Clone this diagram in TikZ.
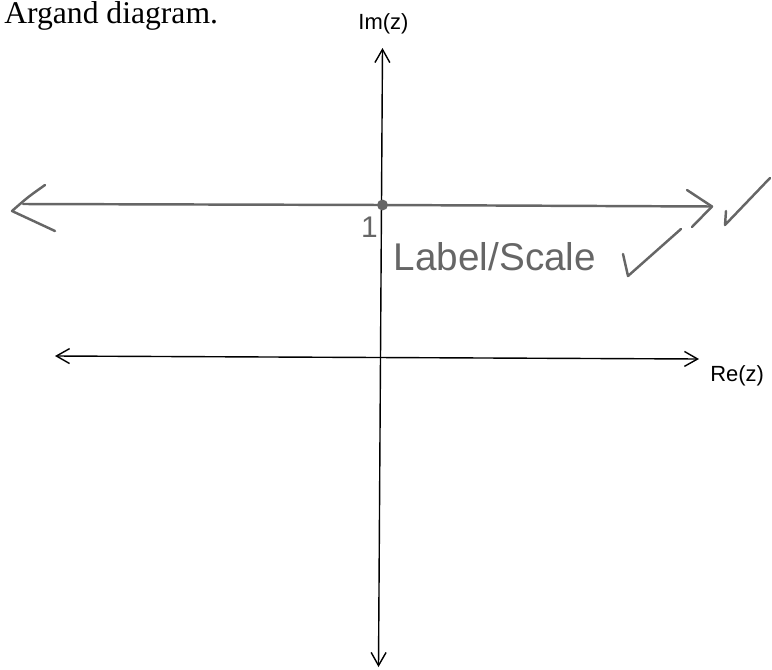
\documentclass[tikz,border=0pt]{standalone}
\usepackage{fontspec}
\setmainfont{Liberation Serif}
\setsansfont{Liberation Sans}
\usetikzlibrary{arrows.meta}

\begin{document}
\begin{tikzpicture}[
    x=0.02cm, y=-0.02cm,
    axis/.style={line width=0.8pt,
        {Straight Barb[length=7.5pt,width=8.5pt]}-{Straight Barb[length=7.5pt,width=8.5pt]}},
    pencil/.style={draw=black!60, line width=1.4pt, line cap=round, line join=round},
    dot/.style={circle, fill=#1, inner sep=2.2pt},
    dot/.default=black!60,
    ink/.style={inner sep=0pt, font=\sffamily\fontsize{12.5}{14}\selectfont},
    hand/.style={inner sep=0pt, text=black!60, font=\sffamily\fontsize{#1}{#1}\selectfont},
    hand/.default=22
]
    \useasboundingbox (0,0) rectangle (772,670);

    % Coordinates
    \coordinate (imtop)   at (382.5, 48);
    \coordinate (imbot)   at (378.5, 667);
    \coordinate (releft)  at (55, 356);
    \coordinate (reright) at (699, 359);

    \coordinate (oneleft)  at (23, 204);
    \coordinate (oneright) at (712, 206.5);
    \coordinate (one)      at (382.5, 205);

    % Title
    \node[inner sep=0pt, anchor=base west, font=\fontsize{18}{20}\selectfont] (title) at (4, 23) {Argand diagram.};

    % Axes
    \draw[axis] (imbot) -- (imtop);
    \draw[axis] (releft) -- (reright);
    \node[ink] (imlabel) at (383.5, 24) {Im(z)};
    \node[ink, anchor=west] (relabel) at (710, 375.5) {Re(z)};

    % Pencil line Im(z) = 1
    \draw[pencil] (oneleft) -- (one) -- (oneright);
    \draw[pencil] (45, 185) .. controls (28, 197) .. (12, 211) -- (55, 231);
    \draw[pencil] (687, 190) -- (oneright) -- (692, 227);
    \node[dot] (onedot) at (one) {};
    \node[hand=17] (onelabel) at (369.5, 227) {1};
    \node[hand] (scalelabel) at (495, 257) {Label/Scale};

    % Ticks
    \draw[pencil] (623, 254) -- (628, 276) -- (681, 229);
    \draw[pencil] (726, 211) -- (725, 225) -- (770, 178);

\end{tikzpicture}
\end{document}
